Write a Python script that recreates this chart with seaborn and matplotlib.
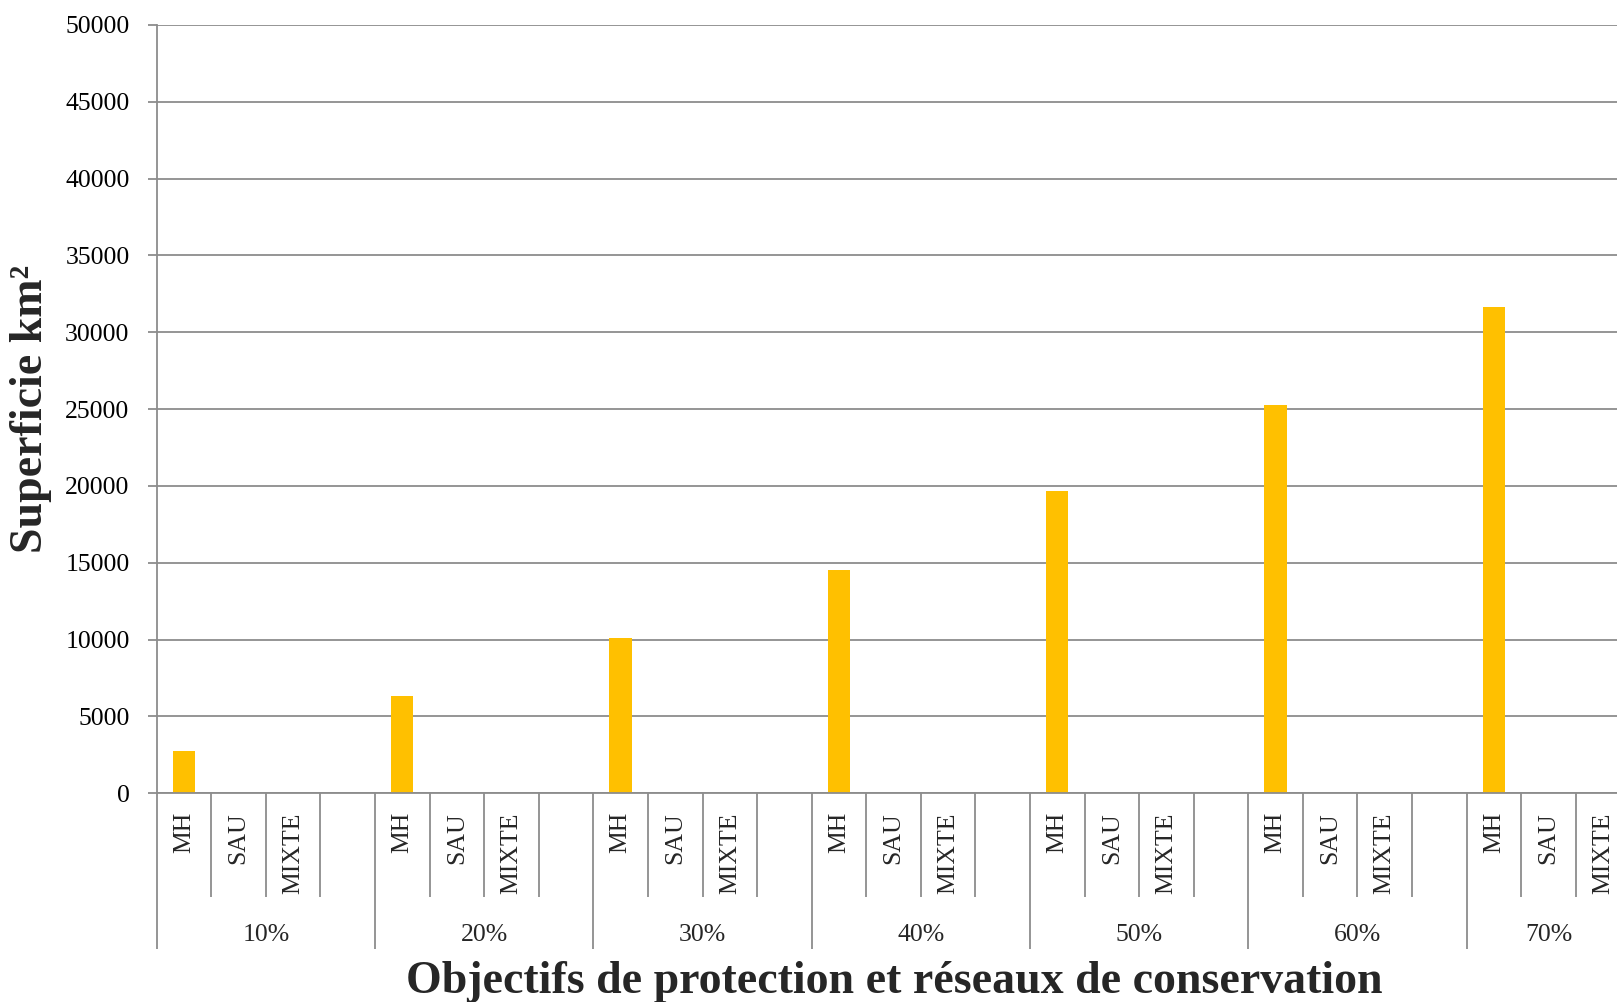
import matplotlib
matplotlib.use("Agg")
import matplotlib.pyplot as plt
import seaborn as sns
import pandas as pd
import numpy as np

# Protection targets and conservation networks
objectifs = ["10%", "20%", "30%", "40%", "50%", "60%", "70%"]
reseaux = ["MH", "SAU", "MIXTE"]
superficie_mh = [2750, 6350, 10100, 14500, 19700, 25250, 31650]
superficie_sau = [0, 0, 0, 0, 0, 0, 0]
superficie_mixte = [0, 0, 0, 0, 0, 0, 0]
y_ticks = [0, 5000, 10000, 15000, 20000, 25000, 30000, 35000, 40000, 45000, 50000]

valeurs = {"MH": superficie_mh, "SAU": superficie_sau, "MIXTE": superficie_mixte}

# Each objective gets 3 network slots, separated by an empty spacer slot
rows = []
order = []
for i, obj in enumerate(objectifs):
    if i > 0:
        order.append(f"{objectifs[i - 1]}|")
    for res in reseaux:
        key = f"{obj}|{res}"
        rows.append({"slot": key, "superficie": valeurs[res][i]})
        order.append(key)
df = pd.DataFrame(rows)

sns.set_style("white")
plt.rcParams["font.family"] = ["Liberation Serif", "DejaVu Serif"]

W, H = 1617, 1002
fig = plt.figure(figsize=(W / 100, H / 100), dpi=100)
slot_px = 54.58
n_slots = len(order)
ax_left, ax_top, ax_bottom = 156.7, 25.0, 793.3
ax = fig.add_axes([ax_left / W, 1 - ax_bottom / H,
                   n_slots * slot_px / W, (ax_bottom - ax_top) / H])

sns.barplot(data=df, x="slot", y="superficie", order=order, color="#FFC000",
            saturation=1, width=0.41, ax=ax, edgecolor="none", errorbar=None)

grey = "#8c8c8c"
ax.set_xlim(-0.5, n_slots - 0.5)
ax.set_ylim(0, 50000)
ax.set_yticks(y_ticks)
ax.set_yticklabels([str(v) for v in y_ticks], fontsize=18.5)
ax.yaxis.grid(True, color=grey, linewidth=1.3)
ax.set_axisbelow(True)
for s in ["top", "right"]:
    ax.spines[s].set_visible(False)
for s in ["left", "bottom"]:
    ax.spines[s].set_color(grey)
    ax.spines[s].set_linewidth(1.3)
ax.tick_params(axis="y", which="major", left=True, length=6.5, width=1.3,
               color=grey, pad=13, labelcolor="black")

# Slot separators (short) and objective separators (long) below the axis
major = [4 * g - 0.5 for g in range(len(objectifs))] + [n_slots - 0.5]
minor = [k - 0.5 for k in range(1, n_slots) if k % 4 != 0]
ax.set_xticks(major)
ax.set_xticks(minor, minor=True)
ax.set_xticklabels([])
ax.tick_params(axis="x", which="major", bottom=True, length=112, width=1.3,
               color=grey, direction="out")
ax.tick_params(axis="x", which="minor", bottom=True, length=75, width=1.3,
               color=grey, direction="out")
ax.set_xlabel("")
ax.set_ylabel("")

trans = ax.get_xaxis_transform()
px_to_ax = 1.0 / (ax_bottom - ax_top)
label_top = -(812 - ax_bottom) * px_to_ax
group_y = -(935 - ax_bottom) * px_to_ax
for i, obj in enumerate(objectifs):
    for j, res in enumerate(reseaux):
        ax.text(4 * i + j, label_top, res, rotation=90, ha="center", va="top",
                fontsize=18.5, transform=trans, clip_on=False)
    group_end = min(4 * i + 3.5, n_slots - 0.5)
    ax.text((4 * i - 0.5 + group_end) / 2, group_y, obj, ha="center", va="center",
            fontsize=18.5, transform=trans, clip_on=False)

fig.text(894 / W, 1 - 993 / H, "Objectifs de protection et réseaux de conservation",
         ha="center", va="baseline", fontsize=33, fontweight="bold")
fig.text(31 / W, 1 - 409 / H, "Superficie km²", rotation=90,
         ha="center", va="center", fontsize=33, fontweight="bold")

fig.savefig("out.png", dpi=100)
